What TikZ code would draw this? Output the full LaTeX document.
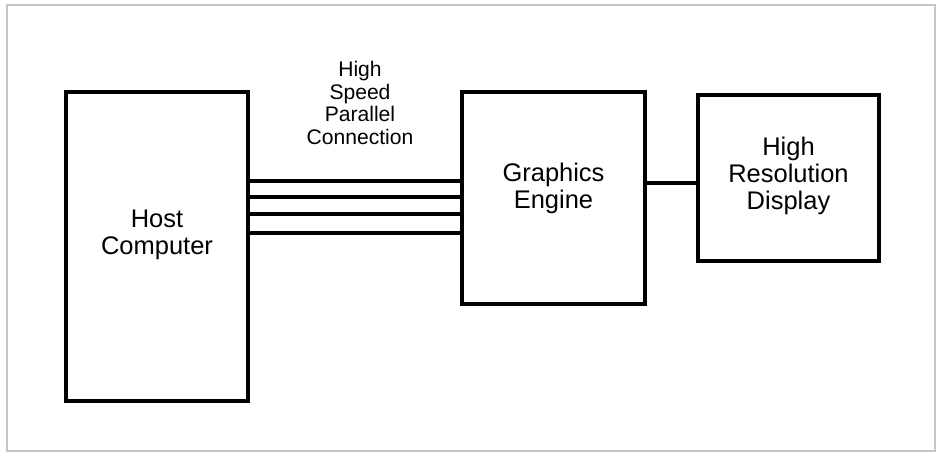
\documentclass[tikz,border=0pt]{standalone}
\usepackage{fontspec}
\setmainfont{Liberation Sans}
\begin{document}
\begin{tikzpicture}[x=0.02cm,y=-0.02cm]
   \tikzstyle{block} = [draw, line width=2pt, inner sep=0pt]
   \tikzstyle{line} = [draw, line width=1.9pt]
   \tikzstyle{big} = [align=center, font=\fontsize{14.5}{15.4}\selectfont]
   \tikzstyle{small} = [align=center, font=\fontsize{12}{13}\selectfont]
   \useasboundingbox (0,0) rectangle (941,455);
   \draw [gray!45, line width=0.6pt] (7,5) rectangle (935,451);

   \node (host) [block, minimum width=3.64cm, minimum height=6.18cm] at (157,246.5) {};
   \node (engine) [block, minimum width=3.66cm, minimum height=4.24cm] at (553.5,198) {};
   \node (display) [block, minimum width=3.62cm, minimum height=3.32cm] at (788.5,178) {};

   \node (hostlabel) [big] at (157,235) {Host\\Computer};
   \node (enginelabel) [big] at (553.5,188) {Graphics\\Engine};
   \node (displaylabel) [big] at (788.5,176) {High\\Resolution\\Display};
   \node (buslabel) [small] at (360,103) {High\\Speed\\Parallel\\Connection};

   \foreach \y in {181,197,214,233}
      \path [line] (host.east |- 0,\y) -- (engine.west |- 0,\y);
   \path [line] (engine.east |- 0,183) -- (display.west |- 0,183);
\end{tikzpicture}
\end{document}
